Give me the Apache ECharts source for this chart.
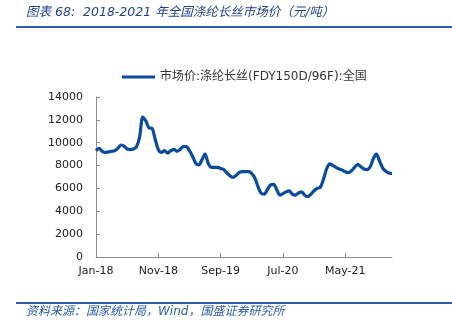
<!DOCTYPE html>
<html>
<head>
<meta charset="utf-8">
<script src="https://cdn.jsdelivr.net/npm/echarts@6/dist/echarts.min.js"></script>
<style>
html,body{margin:0;padding:0;background:#fff;}
#chart{width:452px;height:331px;}
</style>
</head>
<body>
<div id="chart"></div>
<script>
// semi-monthly observations, Jan-2018 .. Dec-2021
const months = ['Jan','Feb','Mar','Apr','May','Jun','Jul','Aug','Sep','Oct','Nov','Dec'];
const years = ['18','19','20','21'];
const categories = [];
years.forEach(y => months.forEach(m => { categories.push(m + '-' + y); categories.push(m + '-' + y + ' (2)'); }));

const seriesName = '市场价:涤纶长丝(FDY150D/96F):全国';
const prices = [
  9300, 9500, 9250, 9150, 9200, 9250, 9300, 9500, 9800, 9700,
  9450, 9400, 9450, 9650, 10500, 12250, 11900, 11300, 11250, 10300,
  9400, 9150, 9300, 9100, 9300, 9420, 9250, 9400, 9650, 9650,
  9300, 8800, 8200, 8050, 8500, 9000, 8200, 7850, 7850, 7850,
  7750, 7650, 7350, 7100, 6970, 7150, 7400, 7470, 7470, 7470,
  7300, 6900, 6150, 5570, 5500, 5900, 6300, 6350, 5900, 5420,
  5550, 5700, 5780, 5500, 5420, 5600, 5700, 5400, 5280, 5500,
  5800, 6000, 6100, 6800, 7700, 8150, 8000, 7850, 7700, 7600,
  7450, 7380, 7550, 7850, 8100, 7900, 7700, 7650, 7900, 8600,
  9000, 8400, 7800, 7500, 7350, 7300
];

const yMin = 0, yMax = 14000, yStep = 2000;
const titleText = '图表 68:  2018-2021 年全国涤纶长丝市场价（元/吨）';
const sourceText = '资料来源：国家统计局，Wind，国盛证券研究所';

const chart = echarts.init(document.getElementById('chart'), null, {renderer: 'canvas'});
chart.setOption({
  animation: false,
  backgroundColor: '#ffffff',
  grid: {left: 96, right: 60, top: 97, bottom: 74, containLabel: false},
  legend: {
    left: 117, top: 66,
    icon: 'rect', itemWidth: 33, itemHeight: 3, itemGap: 4,
    textStyle: {fontSize: 12, color: '#333', fontFamily: 'DejaVu Sans, Noto Sans CJK SC'},
    data: [seriesName]
  },
  xAxis: {
    type: 'category', data: categories, boundaryGap: false,
    axisLine: {lineStyle: {color: '#8c8c8c', width: 1}},
    axisTick: {show: true, inside: true, length: 4, interval: 19, lineStyle: {color: '#8c8c8c'}},
    axisLabel: {interval: 19, margin: 9, fontSize: 11, color: '#222', fontFamily: 'DejaVu Sans',
      formatter: v => v.split(' ')[0]},
    splitLine: {show: false}
  },
  yAxis: {
    type: 'value', min: yMin, max: yMax, interval: yStep,
    axisLine: {show: true, lineStyle: {color: '#8c8c8c', width: 1}},
    axisTick: {show: true, inside: true, length: 4, lineStyle: {color: '#8c8c8c'}},
    axisLabel: {margin: 13, fontSize: 11, color: '#222', fontFamily: 'DejaVu Sans',
      formatter: v => String(v)},
    splitLine: {show: false}
  },
  series: [{
    name: seriesName, type: 'line', data: prices,
    showSymbol: false, smooth: 0.3,
    lineStyle: {color: '#0a4a9f', width: 3.2},
    itemStyle: {color: '#0a4a9f'}
  }],
  graphic: [
    {type: 'text', left: 26, top: 6, style: {text: titleText, fill: '#1f3f8f',
      font: 'italic 12.5px "DejaVu Sans", "Noto Sans CJK SC"'}},
    {type: 'rect', shape: {x: 16, y: 26, width: 436, height: 2}, style: {fill: '#2a5caa'}},
    {type: 'rect', shape: {x: 16, y: 302, width: 436, height: 2}, style: {fill: '#2a5caa'}},
    {type: 'text', left: 26, top: 306, style: {text: sourceText, fill: '#2a5caa',
      font: 'italic 12px "DejaVu Sans", "Noto Sans CJK SC"'}}
  ]
});
</script>
</body>
</html>
